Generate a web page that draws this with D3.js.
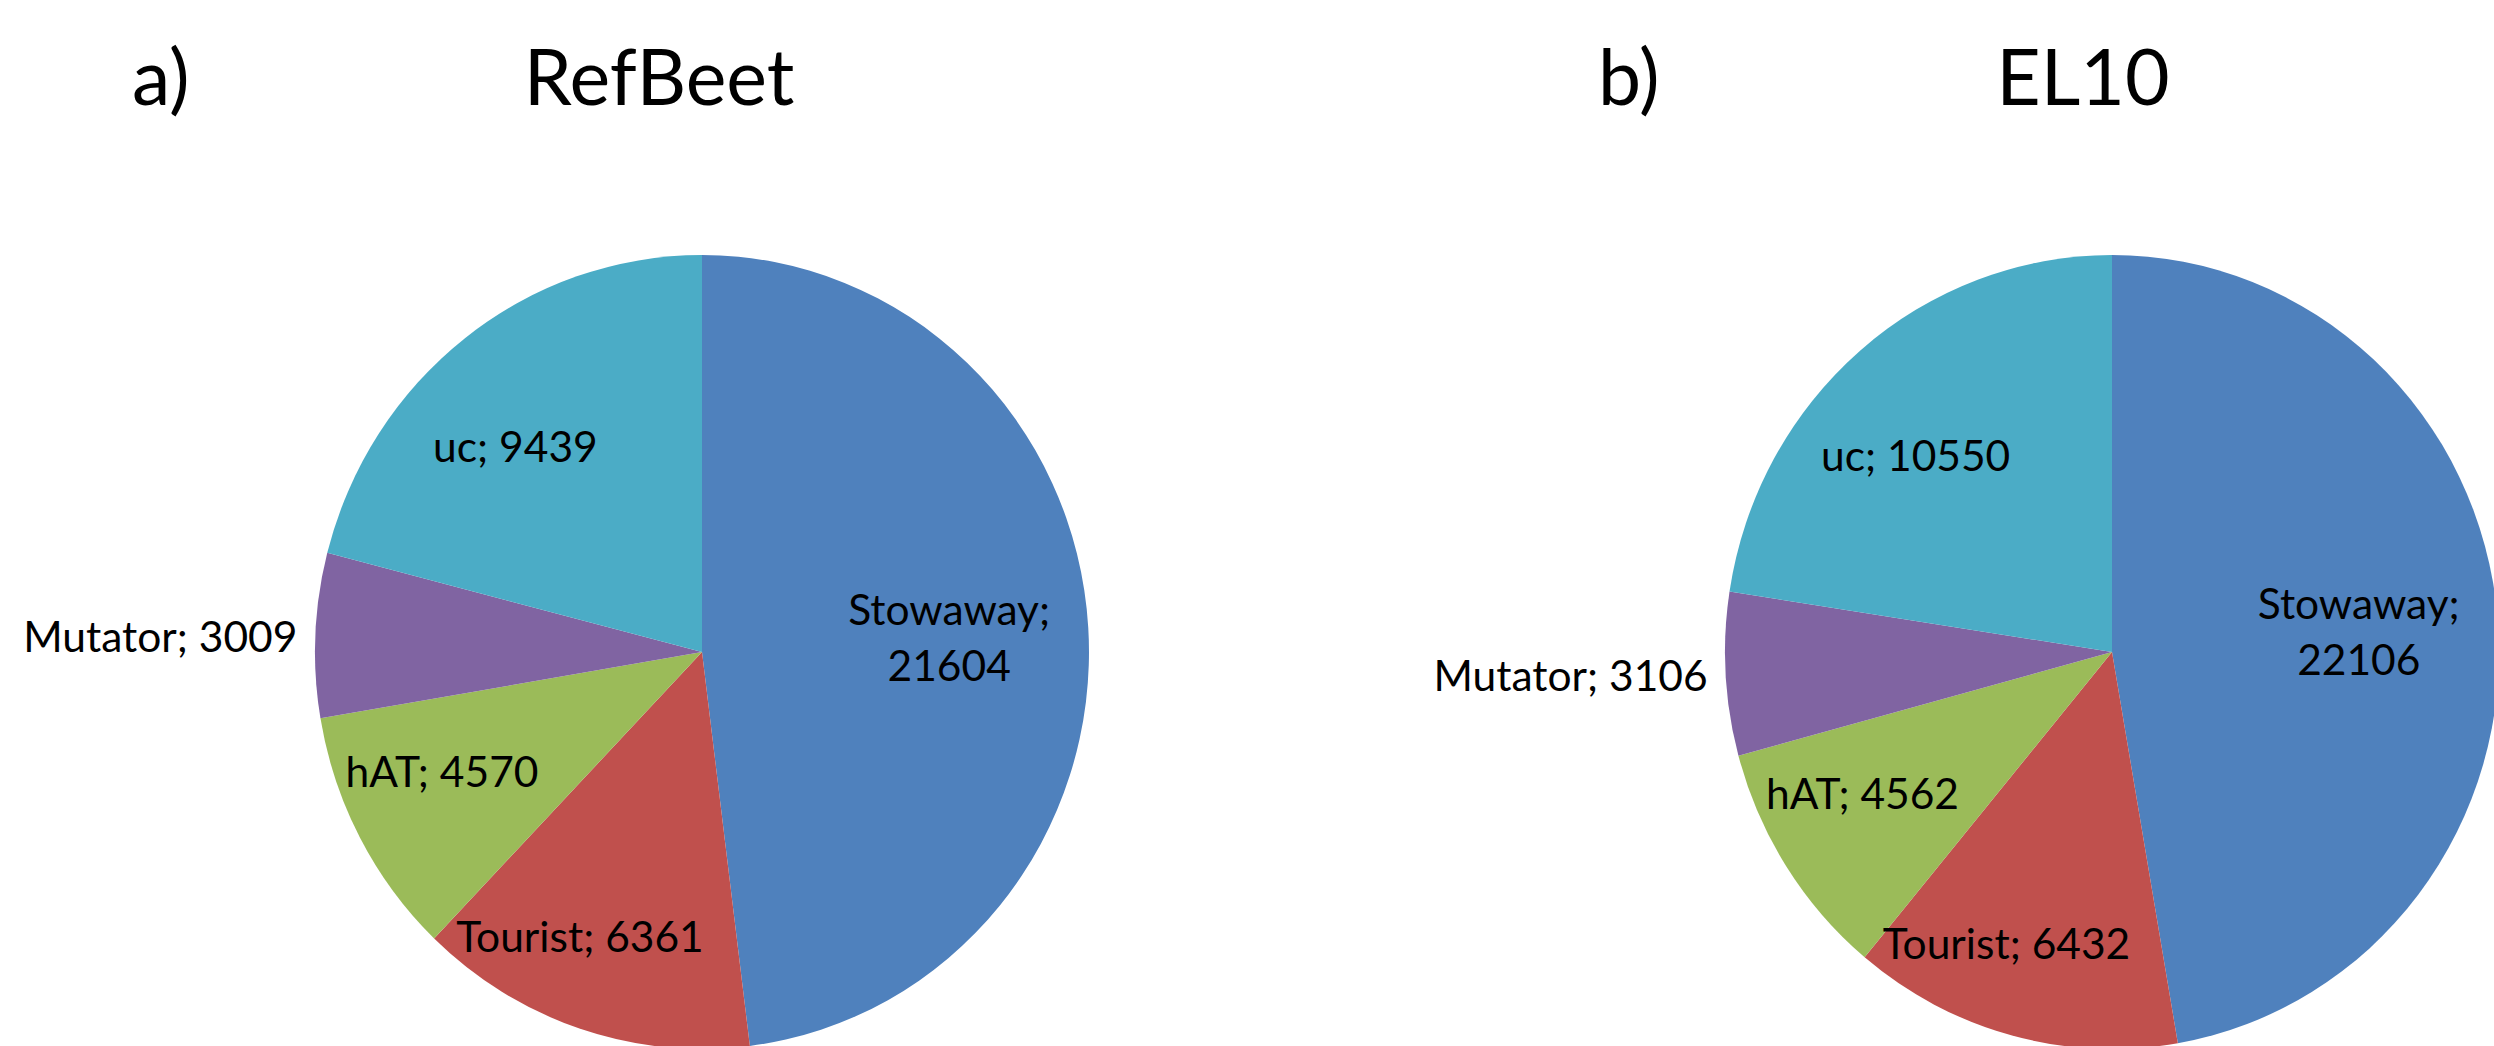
<!DOCTYPE html>
<html>
<head>
<meta charset="utf-8">
<script src="https://cdn.jsdelivr.net/npm/d3@7"></script>
<style>
  html, body { margin: 0; padding: 0; background: #ffffff; }
  svg { display: block; }
  text { font-family: Lato, "Open Sans", sans-serif; fill: #000; }
</style>
</head>
<body>
<svg id="chart" width="2494" height="1046"></svg>
<script>
// ---- Data ----
const categories = ["Stowaway", "Tourist", "hAT", "Mutator", "uc"];
const refBeetValues = [21604, 6361, 4570, 3009, 9439];
const el10Values = [22106, 6432, 4562, 3106, 10550];
const panelLetters = ["a)", "b)"];
const panelTitles = ["RefBeet", "EL10"];
const colors = ["#4F81BD", "#C0504D", "#9BBB59", "#8064A2", "#4BACC6"];

// ---- Layout ----
const rx = 387, ry = 397;
const panels = [
  { values: refBeetValues, cx: 702, cy: 652, letterX: 132, titleX: 659 },
  { values: el10Values,   cx: 2112, cy: 652, letterX: 1598, titleX: 2083 }
];
// label placement: radius fraction and angle nudge (degrees); "outside" for Mutator
const labelLayout = {
  Stowaway: { k: 0.64, shift: 0, twoLine: true },
  Tourist:  { k: 0.78, shift: 5.5 },
  hAT:      { k: 0.735, shift: 4 },
  Mutator:  { outside: true },
  uc:       { k: 0.71, shift: -5 }
};

const svg = d3.select("#chart");
const color = d3.scaleOrdinal().domain(categories).range(colors);
const pie = d3.pie().sort(null).value(d => d.value);
const arc = d3.arc().innerRadius(0).outerRadius(rx);

const labelFont = 42.5;
const titleFont = 77;
const titleBaseline = 105;

panels.forEach((p, i) => {
  const data = categories.map((c, j) => ({ cat: c, value: p.values[j] }));
  const arcs = pie(data);

  // titles
  svg.append("text")
    .attr("x", p.letterX).attr("y", titleBaseline)
    .attr("font-size", titleFont)
    .text(panelLetters[i]);
  svg.append("text")
    .attr("x", p.titleX).attr("y", titleBaseline)
    .attr("text-anchor", "middle")
    .attr("font-size", titleFont)
    .text(panelTitles[i]);

  const g = svg.append("g")
    .attr("transform", `translate(${p.cx},${p.cy}) scale(1,${ry / rx})`);
  g.selectAll("path").data(arcs).enter().append("path")
    .attr("d", arc)
    .attr("fill", d => color(d.data.cat));

  // labels
  arcs.forEach(a => {
    const L = labelLayout[a.data.cat];
    const mid = (a.startAngle + a.endAngle) / 2;
    if (L.outside) {
      const y = p.cy - Math.cos(mid) * ry;
      const x = p.cx + Math.sin(mid) * rx - 18;
      svg.append("text")
        .attr("x", x).attr("y", y)
        .attr("text-anchor", "end")
        .attr("dominant-baseline", "central")
        .attr("font-size", labelFont)
        .text(`${a.data.cat}; ${a.data.value}`);
    } else {
      const ang = mid + L.shift * Math.PI / 180;
      const x = p.cx + Math.sin(ang) * rx * L.k;
      const y = p.cy - Math.cos(ang) * ry * L.k;
      const t = svg.append("text")
        .attr("text-anchor", "middle")
        .attr("font-size", labelFont);
      if (L.twoLine) {
        t.append("tspan").attr("x", x).attr("y", y - 28)
          .attr("dominant-baseline", "central").text(`${a.data.cat};`);
        t.append("tspan").attr("x", x).attr("y", y + 28)
          .attr("dominant-baseline", "central").text(`${a.data.value}`);
      } else {
        t.attr("x", x).attr("y", y)
          .attr("dominant-baseline", "central")
          .text(`${a.data.cat}; ${a.data.value}`);
      }
    }
  });
});
</script>
</body>
</html>
